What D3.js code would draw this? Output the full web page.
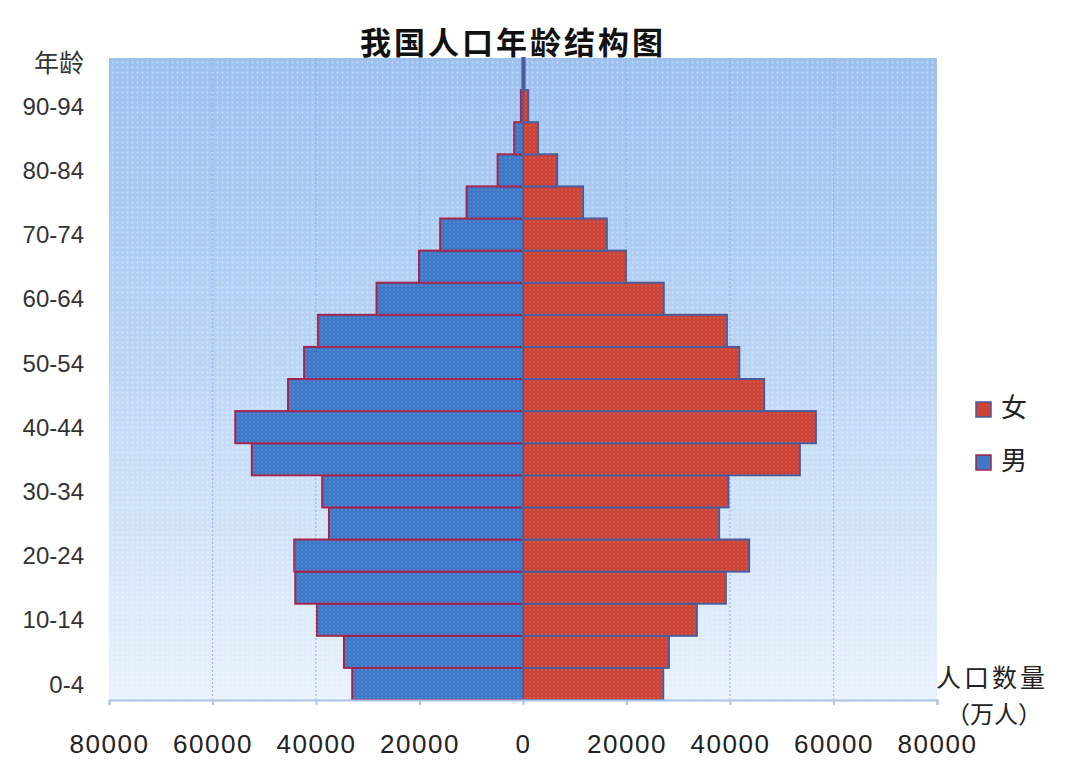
<!DOCTYPE html>
<html><head><meta charset="utf-8">
<script src="https://cdn.jsdelivr.net/npm/d3@7/dist/d3.min.js"></script>
<style>
html,body{margin:0;padding:0;background:#fff;}
svg{display:block;}
</style></head>
<body>
<svg id="chart" width="1080" height="778"></svg>
<script>
const ageGroups = ["0-4","5-9","10-14","15-19","20-24","25-29","30-34","35-39","40-44","45-49","50-54","55-59","60-64","65-69","70-74","75-79","80-84","85-89","90-94","95+"];
const maleValues = [33000,34600,39800,44000,44200,37500,38800,52400,55600,45400,42300,39600,28300,20100,16000,10900,4900,1700,400,100];
const femaleValues = [27100,28200,33600,39200,43700,37900,39700,53500,56600,46600,41800,39400,27200,19900,16200,11600,6600,2900,1000,300];
const xTickValues = [-80000,-60000,-40000,-20000,0,20000,40000,60000,80000];
const yLabelGroups = ["0-4","10-14","20-24","30-34","40-44","50-54","60-64","70-74","80-84","90-94"];
const legendItems = [{name:"女", key:"f"},{name:"男", key:"m"}];

const svg = d3.select("#chart");
const pLeft = 109, pRight = 937, pTop = 58, pBottom = 700;

const x = d3.scaleLinear().domain([-80000,80000]).range([pLeft,pRight]);
const y = d3.scaleBand().domain(ageGroups).range([pBottom, pTop]).padding(0);

const defs = svg.append("defs");
const grad = defs.append("linearGradient").attr("id","bg").attr("x1",0).attr("y1",0).attr("x2",0).attr("y2",1);
grad.append("stop").attr("offset","0%").attr("stop-color","#9cc0f0");
grad.append("stop").attr("offset","45%").attr("stop-color","#bad4f5");
grad.append("stop").attr("offset","100%").attr("stop-color","#e9f2fd");
const pat = defs.append("pattern").attr("id","dots").attr("width",5).attr("height",5).attr("patternUnits","userSpaceOnUse");
pat.append("circle").attr("cx",2.5).attr("cy",2.5).attr("r",0.9).attr("fill","#ffffff").attr("opacity",0.45);
const pat2 = defs.append("pattern").attr("id","dots2").attr("width",4).attr("height",4).attr("patternUnits","userSpaceOnUse");
pat2.append("circle").attr("cx",2).attr("cy",2).attr("r",0.7).attr("fill","#ffffff").attr("opacity",0.25);

// plot background
svg.append("rect").attr("x",pLeft).attr("y",pTop).attr("width",pRight-pLeft).attr("height",pBottom-pTop).attr("fill","url(#bg)");
svg.append("rect").attr("x",pLeft).attr("y",pTop).attr("width",pRight-pLeft).attr("height",pBottom-pTop).attr("fill","url(#dots)");

// gridlines
svg.append("g").selectAll("line").data(xTickValues.filter(d=>d!==0 && Math.abs(d)!==80000)).join("line")
  .attr("x1",d=>x(d)).attr("x2",d=>x(d)).attr("y1",pTop).attr("y2",pBottom)
  .attr("stroke","#8fb0e0").attr("stroke-width",1.2).attr("stroke-dasharray","2,2").attr("opacity",0.8);

// bars
const bars = svg.append("g");
bars.selectAll("rect.m").data(ageGroups).join("rect").attr("class","m")
  .attr("x",(d,i)=>x(-maleValues[i])).attr("y",d=>y(d))
  .attr("width",(d,i)=>x(0)-x(-maleValues[i])).attr("height",y.bandwidth())
  .attr("fill","#3e79c7").attr("stroke","#a2244a").attr("stroke-width",2);
bars.selectAll("rect.f").data(ageGroups).join("rect").attr("class","f")
  .attr("x",x(0)).attr("y",d=>y(d))
  .attr("width",(d,i)=>x(femaleValues[i])-x(0)).attr("height",y.bandwidth())
  .attr("fill","#cb4437").attr("stroke","#4a5a9a").attr("stroke-width",2);
bars.append("g").selectAll("rect").data(ageGroups).join("rect")
  .attr("x",(d,i)=>x(-maleValues[i])).attr("y",d=>y(d))
  .attr("width",(d,i)=>x(femaleValues[i])-x(-maleValues[i])).attr("height",y.bandwidth())
  .attr("fill","url(#dots2)");

// x axis
const xAxis = d3.axisBottom(x).tickValues(xTickValues).tickFormat(d=>Math.abs(d)).tickSize(5).tickPadding(30);
const gx = svg.append("g").attr("transform",`translate(0,${pBottom})`).call(xAxis);
gx.select(".domain").attr("stroke","#a9c4e6").attr("stroke-width",2);
gx.selectAll(".tick line").attr("stroke","#a9c4e6").attr("stroke-width",2);
gx.selectAll("text").attr("font-family","Liberation Sans, Arial, sans-serif").attr("font-size",26)
  .attr("letter-spacing",1.5).attr("fill","#222");

// y labels
svg.append("g").selectAll("text").data(yLabelGroups).join("text")
  .attr("x",84).attr("y",d=>y(d)+y.bandwidth()/2).attr("dy","0.36em")
  .attr("text-anchor","end").attr("font-family","Liberation Sans, Arial, sans-serif")
  .attr("font-size",24).attr("fill","#333").text(d=>d);
svg.append("text").attr("x",84).attr("y",63).attr("dy","0.36em").attr("text-anchor","end")
  .attr("font-family","Noto Sans CJK SC").attr("font-size",25).attr("fill","#333").text("年龄");

// title
svg.append("text").attr("x",513).attr("y",54).attr("text-anchor","middle")
  .attr("font-family","Noto Sans CJK SC").attr("font-weight","bold").attr("font-size",31)
  .attr("letter-spacing",3).attr("fill","#111").text("我国人口年龄结构图");

// axis title
svg.append("text").attr("x",992).attr("y",687).attr("text-anchor","middle")
  .attr("font-family","Noto Sans CJK SC").attr("font-size",25).attr("letter-spacing",3).attr("fill","#222").text("人口数量");
svg.append("text").attr("x",994).attr("y",723).attr("text-anchor","middle")
  .attr("font-family","Noto Sans CJK SC").attr("font-size",24).attr("fill","#222").text("（万人）");

// legend
const lg = svg.append("g").selectAll("g").data(legendItems).join("g")
  .attr("transform",(d,i)=>`translate(976,${402+i*53})`);
lg.append("rect").attr("width",15).attr("height",15)
  .attr("fill",d=>d.key==="f"?"#cb4437":"#3e79c7")
  .attr("stroke",d=>d.key==="f"?"#4a5a9a":"#a2244a").attr("stroke-width",1.5);
lg.append("text").attr("x",25).attr("y",6).attr("dy","0.36em")
  .attr("font-family","Noto Sans CJK SC").attr("font-size",26).attr("fill","#222").text(d=>d.name);
</script>
</body></html>
